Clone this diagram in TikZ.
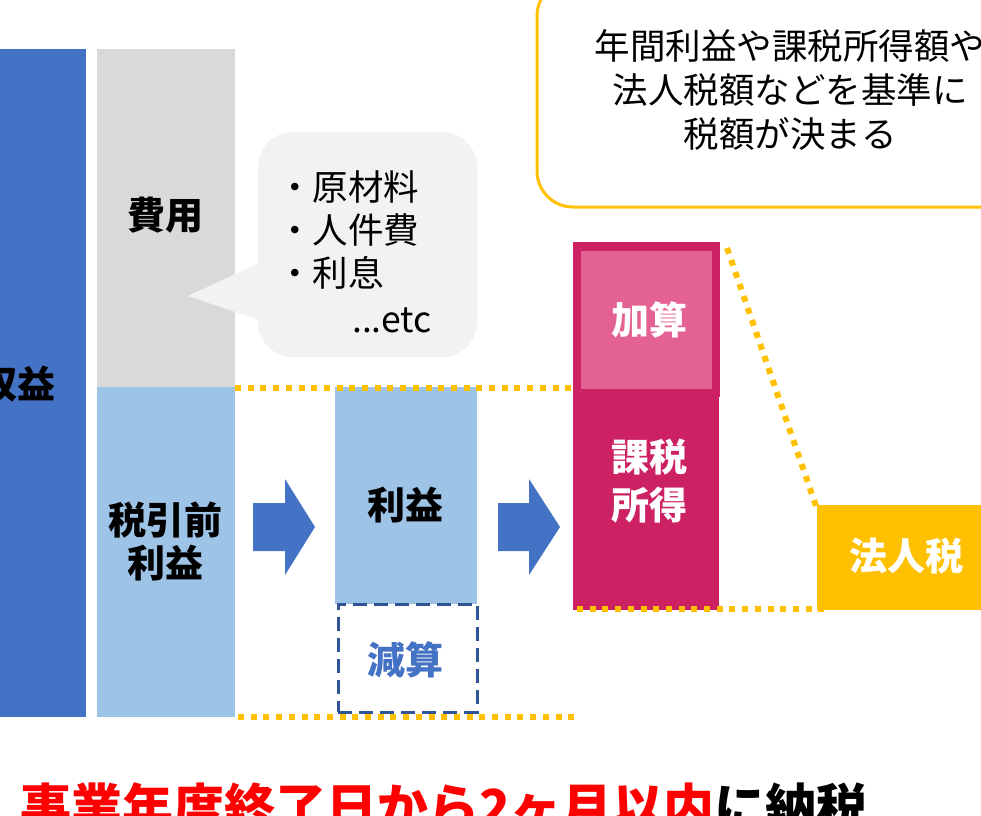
\documentclass[tikz,border=0pt]{standalone}
\usepackage{fontspec}
\setmainfont{Noto Sans CJK JP}
\definecolor{cblue}{HTML}{4472C4}
\definecolor{cgray}{HTML}{D9D9D9}
\definecolor{clblue}{HTML}{9DC3E6}
\definecolor{ccall}{HTML}{F2F2F2}
\definecolor{cyel}{HTML}{FFC000}
\definecolor{cmag}{HTML}{CC2162}
\definecolor{cpink}{HTML}{E46193}
\definecolor{cdblue}{HTML}{2F5597}
\definecolor{cred}{HTML}{FF0000}
\tikzset{
  bar/.style={rectangle, draw=none, inner sep=0pt, outer sep=0pt, anchor=north west},
  lbl/.style={inner sep=0pt, font=\fontsize{38}{43}\selectfont\bfseries, align=center},
  txt/.style={inner sep=0pt, font=\fontsize{35.5}{44}\selectfont},
  dotline/.style={draw=cyel, line width=6pt, dash pattern=on 6pt off 6.7pt},
  blockarrow/.style={fill=cblue, draw=none},
}
\begin{document}
\begin{tikzpicture}[x=1pt,y=-1pt]
\useasboundingbox (0,0) rectangle (981,815);
% bars
\node[bar, fill=cblue, minimum width=136pt, minimum height=668pt] (rev) at (-50,49) {};
\node[bar, fill=cgray, minimum width=138pt, minimum height=338pt] (cost) at (97,49) {};
\node[bar, fill=clblue, minimum width=138pt, minimum height=330pt] (pretax) at (97,387) {};
\node[bar, fill=clblue, minimum width=142pt, minimum height=217pt] (profit) at (335,387) {};
\node[bar, draw=cdblue, line width=3pt, dash pattern=on 14pt off 7pt, minimum width=139pt, minimum height=108pt] (minus) at (338,604) {};
\node[bar, fill=cmag, minimum width=147pt, minimum height=155pt] (addout) at (573,242) {};
\node[bar, fill=cpink, minimum width=131pt, minimum height=138pt] (addin) at (581,251) {};
\node[bar, fill=cmag, minimum width=146pt, minimum height=213pt] (taxable) at (573,397) {};
\node[bar, fill=cyel, minimum width=200pt, minimum height=105pt] (tax) at (817,505) {};
% callout
\fill[ccall, rounded corners=35pt] (258,132) rectangle (477,357);
\fill[ccall] (259,263) -- (188,296) -- (259,320) -- cycle;
% top note box
\draw[cyel, line width=3pt, rounded corners=36pt] (537,-20) rectangle (1043,207);
% block arrows
\fill[blockarrow] (253,503) -- (285,503) -- (285,479) -- (315,527) -- (285,575) -- (285,551) -- (253,551) -- cycle;
\fill[blockarrow] (498,503) -- (529,503) -- (529,479) -- (560,527) -- (529,575) -- (529,551) -- (498,551) -- cycle;
% dotted lines
\coordinate (d1a) at (235,388); \coordinate (d1b) at (573,388);
\coordinate (d2a) at (238,717); \coordinate (d2b) at (578,717);
\coordinate (d3a) at (577,609); \coordinate (d3b) at (827,609);
\coordinate (d4a) at (727,248); \coordinate (d4b) at (816,506);
\draw[dotline] (d1a) -- (d1b);
\draw[dotline] (d2a) -- (d2b);
\draw[dotline] (d3a) -- (d3b);
\draw[dotline] (d4a) -- (d4b);
% labels
\node[lbl] (trev) at (18,384) {収益};
\node[lbl] (tcost) at (165,215) {費用};
\node[lbl] (tpre) at (165,541) {税引前\\利益};
\node[lbl] (tprof) at (405,505) {利益};
\node[lbl, text=cblue] (tminus) at (405,660) {減算};
\node[lbl, text=white] (tadd) at (649,320) {加算};
\node[lbl, text=white, font=\fontsize{38}{48}\selectfont\bfseries] (ttaxable) at (649,481) {課税\\所得};
\node[lbl, text=white] (ttax) at (906,556) {法人税};
% callout text
\node[txt, anchor=base west] (c1) at (277,200) {・原材料};
\node[txt, anchor=base west] (c2) at (277,243) {・人件費};
\node[txt, anchor=base west] (c3) at (277,286) {・利息};
\node[txt, anchor=base west] (c4) at (352,332) {...etc};
% note text
\node[txt, align=center] (note) at (790,90) {年間利益や課税所得額や\\法人税額などを基準に\\税額が決まる};
% bottom text
\node[inner sep=0pt, anchor=base west, font=\fontsize{51}{60}\selectfont\bfseries] (bottom) at (20,826) {\textcolor{cred}{事業年度終了日から2ヶ月以内}に納税};
\end{tikzpicture}
\end{document}
